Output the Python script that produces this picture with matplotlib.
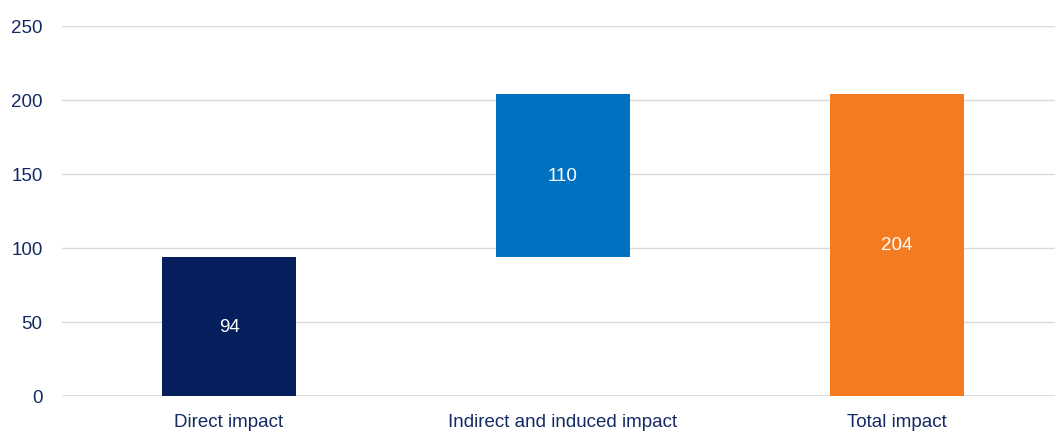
import matplotlib
matplotlib.use('Agg')
import matplotlib.pyplot as plt

# ── Data ──
categories = ['Direct impact', 'Indirect and induced impact', 'Total impact']
values = [94, 110, 204]
bases = [0, 94, 0]
colors = ['#041E5E', '#0070C0', '#F47B20']

TEXT = '#132A63'
GRID = '#DADADA'

plt.rcParams['font.family'] = ['Liberation Sans', 'DejaVu Sans']

fig = plt.figure(figsize=(10.55, 4.39), dpi=100, facecolor='white')
ax = fig.add_axes([0.0588, 0.0957, 0.9498, 0.843])

x = range(len(categories))
bars = ax.bar(x, values, bottom=bases, width=0.4, color=colors, zorder=3)

for b, v, base in zip(bars, values, bases):
    ax.text(b.get_x() + b.get_width() / 2, base + v / 2, str(v),
            ha='center', va='center', color='white', fontsize=13.5, zorder=4)

ax.set_xlim(-0.5, 2.5)
ax.set_ylim(0, 250)
ax.set_yticks(range(0, 251, 50))
ax.set_xticks(list(x))
ax.set_xticklabels(categories)

ax.grid(axis='y', color=GRID, linewidth=1.0, zorder=0)
ax.axhline(0, color=GRID, linewidth=1.2, zorder=1)
for s in ax.spines.values():
    s.set_visible(False)
ax.tick_params(axis='both', length=0, labelsize=13.5, colors=TEXT)
ax.tick_params(axis='y', pad=14)
ax.tick_params(axis='x', pad=12)

plt.savefig('out.png', dpi=100, facecolor='white')
